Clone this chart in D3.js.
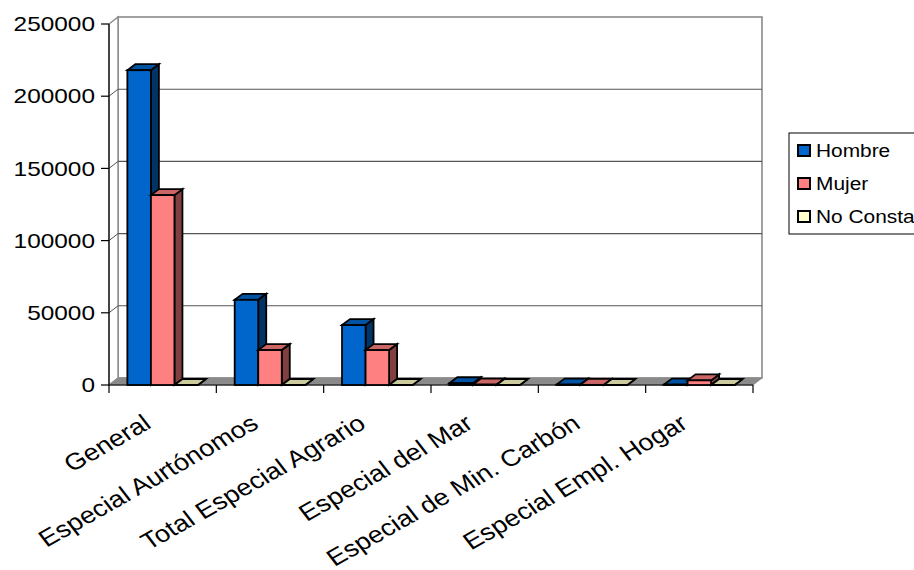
<!DOCTYPE html>
<html>
<head>
<meta charset="utf-8">
<script src="https://cdn.jsdelivr.net/npm/d3@7"></script>
<style>
  html, body { margin: 0; padding: 0; background: #fff; }
  svg { display: block; }
  text { font-family: "Liberation Sans", Arial, sans-serif; fill: #000; }
</style>
</head>
<body>
<svg id="chart" width="914" height="570"></svg>
<script>
// ---- data ----
const categories = ["General", "Especial Aurtónomos", "Total Especial Agrario",
  "Especial del Mar", "Especial de Min. Carbón", "Especial Empl. Hogar"];
const seriesNames = ["Hombre", "Mujer", "No Consta"];
const hombre   = [218000, 59000, 41500, 1200, 300, 300];
const mujer    = [131500, 24200, 24200, 300, 100, 3200];
const noConsta = [0, 0, 0, 0, 0, 0];
const yTicks   = [0, 50000, 100000, 150000, 200000, 250000];

(function () {
const seriesValues = [hombre, mujer, noConsta];
const frontColors = ["#0066cc", "#ff8080", "#ffffcc"];
const topColors   = ["#0052a3", "#cc6666", "#cccc9e"];
const sideColors  = ["#003366", "#804040", "#80806a"];

// ---- layout ----
const svg = d3.select("#chart");
const pLeft = 109, pRight = 753, pBottom = 385, pTop = 24;
const wdx = 9, wdy = -7;   // wall depth offset
const bdx = 8, bdy = -6;   // bar depth offset

const x0 = d3.scaleBand().domain(categories).range([pLeft, pRight]);
const x1 = d3.scaleBand().domain(seriesNames).range([0, x0.bandwidth()])
  .paddingInner(0).paddingOuter(0.78);
const y = d3.scaleLinear().domain([0, 250000]).range([pBottom, pTop]);

const line = d3.line();

// back wall
svg.append("rect")
  .attr("x", pLeft + wdx).attr("y", pTop + wdy)
  .attr("width", pRight - pLeft).attr("height", pBottom - pTop)
  .attr("fill", "#fff").attr("stroke", "#8a8a8a").attr("stroke-width", 1.6);

// left wall
svg.append("path")
  .attr("d", line([[pLeft, pTop], [pLeft + wdx, pTop + wdy], [pLeft + wdx, pBottom + wdy], [pLeft, pBottom]]) + "Z")
  .attr("fill", "#fff").attr("stroke", "#8a8a8a").attr("stroke-width", 1.4);

// floor
svg.append("path")
  .attr("d", line([[pLeft, pBottom], [pLeft + wdx, pBottom + wdy], [pRight + wdx, pBottom + wdy], [pRight, pBottom]]) + "Z")
  .attr("fill", "#8a8a8a").attr("stroke", "#8a8a8a").attr("stroke-width", 1);

// gridlines (back wall + left wall)
const grid = svg.append("g");
yTicks.filter(v => v > 0 && v < 250000).forEach(v => {
  grid.append("line")
    .attr("x1", pLeft + wdx).attr("x2", pRight + wdx)
    .attr("y1", y(v) + wdy).attr("y2", y(v) + wdy)
    .attr("stroke", "#555").attr("stroke-width", 1.1);
  grid.append("line")
    .attr("x1", pLeft).attr("x2", pLeft + wdx)
    .attr("y1", y(v)).attr("y2", y(v) + wdy)
    .attr("stroke", "#555").attr("stroke-width", 1);
});

// axes
const yAxisG = svg.append("g").attr("transform", `translate(${pLeft},0)`);
yAxisG.append("line").attr("x1", 0).attr("x2", 0).attr("y1", pTop).attr("y2", pBottom)
  .attr("stroke", "#000").attr("stroke-width", 1.2);
yTicks.forEach(v => {
  yAxisG.append("line").attr("x1", -8).attr("x2", 0).attr("y1", y(v)).attr("y2", y(v))
    .attr("stroke", "#000").attr("stroke-width", 1.2);
  yAxisG.append("text")
    .attr("transform", `translate(-14,${y(v)}) scale(1.22,1)`)
    .attr("text-anchor", "end").attr("dy", "0.36em")
    .attr("font-size", 20)
    .text(v);
});

const xAxisG = svg.append("g");
xAxisG.append("line").attr("x1", pLeft).attr("x2", pRight).attr("y1", pBottom).attr("y2", pBottom)
  .attr("stroke", "#000").attr("stroke-width", 1.2);
const bounds = categories.map(c => x0(c)).concat([pRight]);
bounds.forEach(b => {
  xAxisG.append("line").attr("x1", b).attr("x2", b).attr("y1", pBottom).attr("y2", pBottom + 8)
    .attr("stroke", "#000").attr("stroke-width", 1.2);
});

// bars
const bars = svg.append("g").attr("stroke", "#000").attr("stroke-width", 1.8).attr("stroke-linejoin", "miter");
categories.forEach((c, ci) => {
  seriesNames.forEach((s, si) => {
    const v = seriesValues[si][ci];
    const xa = x0(c) + x1(s), xb = xa + x1.bandwidth();
    const yt = y(v), yb = y(0);
    bars.append("path")
      .attr("d", line([[xb, yt], [xb + bdx, yt + bdy], [xb + bdx, yb + bdy], [xb, yb]]) + "Z")
      .attr("fill", sideColors[si]);
    bars.append("path")
      .attr("d", line([[xa, yt], [xa + bdx, yt + bdy], [xb + bdx, yt + bdy], [xb, yt]]) + "Z")
      .attr("fill", topColors[si]);
    bars.append("rect")
      .attr("x", xa).attr("y", yt).attr("width", xb - xa).attr("height", yb - yt)
      .attr("fill", frontColors[si]);
  });
});

// category labels
categories.forEach(c => {
  const cx = x0(c) + x0.bandwidth() / 2;
  svg.append("text")
    .attr("transform", `translate(${cx - 10},${pBottom + 42}) scale(1.17,1) rotate(-33.5)`)
    .attr("text-anchor", "end")
    .attr("font-size", 23.3)
    .text(c);
});

// legend
const lg = svg.append("g");
lg.append("rect").attr("x", 789).attr("y", 133).attr("width", 160).attr("height", 101)
  .attr("fill", "#fff").attr("stroke", "#000").attr("stroke-width", 1);
seriesNames.forEach((s, i) => {
  const cy = 150.5 + i * 33;
  lg.append("rect").attr("x", 798).attr("y", cy - 5.5).attr("width", 12).attr("height", 11)
    .attr("fill", frontColors[i]).attr("stroke", "#000").attr("stroke-width", 2);
  lg.append("text")
    .attr("transform", `translate(816,${cy}) scale(1.16,1)`)
    .attr("dy", "0.36em").attr("font-size", 18)
    .text(s);
});
})();
</script>
</body>
</html>
